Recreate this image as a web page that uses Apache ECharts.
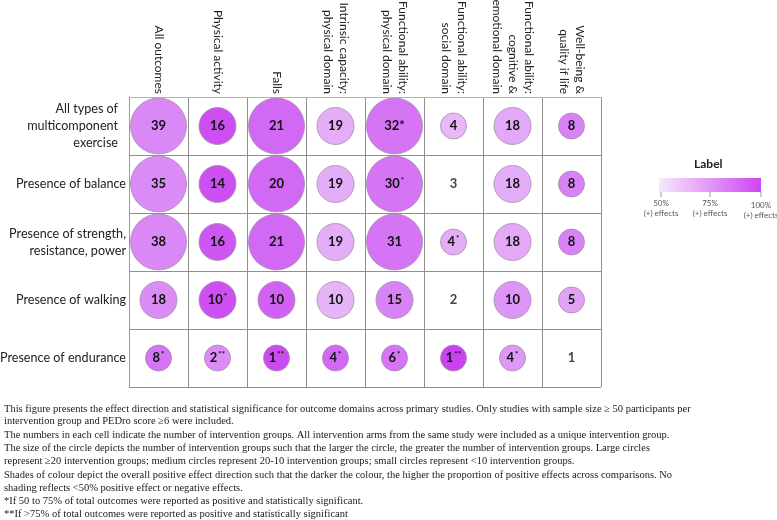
<!DOCTYPE html>
<html><head><meta charset="utf-8">
<script src="https://cdn.jsdelivr.net/npm/echarts@6/dist/echarts.min.js"></script>
<style>html,body{margin:0;padding:0;background:#fff}#c{width:777px;height:520px}</style>
</head><body><div id="c"></div>
<script>
// ---- data ----
const outcomes = ['All outcomes', 'Physical activity', 'Falls', 'Intrinsic capacity:\nphysical domain',
  'Functional ability:\nphysical domain', 'Functional ability:\nsocial domain',
  'Functional ability:\ncognitive &\nemotional domain', 'Well-being &\nquality if life'];
const exerciseTypes = ['All types of\nmulticomponent\nexercise', 'Presence of balance',
  'Presence of strength,\nresistance, power', 'Presence of walking', 'Presence of endurance'];
// number of intervention groups
const counts = [
  [39, 16, 21, 19, 32, 4, 18, 8],
  [35, 14, 20, 19, 30, 3, 18, 8],
  [38, 16, 21, 19, 31, 4, 18, 8],
  [18, 10, 10, 10, 15, 2, 10, 5],
  [8, 2, 1, 4, 6, 1, 4, 1]
];
// estimated proportion of positive effects (%), null = no shading (<50%)
const positivePct = [
  [78, 95, 88, 65, 85, 62, 66, 80],
  [77, 95, 88, 65, 85, null, 65, 80],
  [78, 93, 88, 65, 85, 65, 66, 80],
  [76, 95, 90, 63, 80, null, 73, 68],
  [85, 76, 96, 88, 85, 98, 72, null]
];
// number of significance asterisks
const sigStars = [
  [0, 0, 0, 0, 1, 0, 0, 0],
  [0, 0, 0, 0, 1, 0, 0, 0],
  [0, 0, 0, 0, 0, 1, 0, 0],
  [0, 1, 0, 0, 0, 0, 0, 0],
  [1, 2, 2, 1, 1, 2, 1, 0]
];
// cells whose asterisk is printed full size instead of superscript
const inlineStarCells = [[0, 4]];
const legendTicks = ['50%\n(+) effects', '75%\n(+) effects', '100%\n(+) effects'];
const footnotes = [
  'This figure presents the effect direction and statistical significance for outcome domains across primary studies. Only studies with sample size \u2265 50 participants per',
  'intervention group and PEDro score \u22656 were included.',
  'The numbers in each cell indicate the number of intervention groups. All intervention arms from the same study were included as a unique intervention group.',
  'The size of the circle depicts the number of intervention groups such that the larger the circle, the greater the number of intervention groups. Large circles',
  'represent \u226520 intervention groups; medium circles represent 20-10 intervention groups; small circles represent <10 intervention groups.',
  'Shades of colour depict the overall positive effect direction such that the darker the colour, the higher the proportion of positive effects across comparisons. No',
  'shading reflects <50% positive effect or negative effects.',
  '*If 50 to 75% of total outcomes were reported as positive and statistically significant.',
  '**If >75% of total outcomes were reported as positive and statistically significant'
];

// ---- build ----
const FONT = 'Lato, "Open Sans", sans-serif';
function sizeFor(n) { return n >= 20 ? 56 : (n >= 10 ? 37 : 26); }
function isInline(r, c) { return inlineStarCells.some(p => p[0] === r && p[1] === c); }
const shaded = [], plain = [];
counts.forEach((row, r) => row.forEach((n, c) => {
  const item = { value: [c, r, n, positivePct[r][c], sigStars[r][c], isInline(r, c) ? 1 : 0] };
  if (positivePct[r][c] == null) plain.push(item); else shaded.push(item);
}));
const labelCfg = {
  show: true, position: 'inside',
  formatter: p => {
    const v = p.data.value;
    let s = '{n|' + v[2] + '}';
    if (v[4] > 0) s += (v[5] ? '{f|' : '{s|') + '*'.repeat(v[4]) + '}';
    return s;
  },
  rich: {
    n: { fontFamily: FONT, fontWeight: 'bold', fontSize: 13, color: '#111', lineHeight: 16 },
    s: { fontFamily: FONT, fontWeight: 'bold', fontSize: 8, color: '#111', lineHeight: 16, verticalAlign: 'top', padding: [0, 0, 6, 1] },
    f: { fontFamily: FONT, fontWeight: 'bold', fontSize: 13, color: '#111', lineHeight: 16 }
  }
};
const legendX = [661, 710, 761];
const graphics = [
  { type: 'text', left: 710 - 16, top: 158, style: { text: 'Label', font: 'bold 12px ' + FONT, fill: '#222' } },
  { type: 'rect', shape: { x: 659, y: 178, width: 102, height: 14 },
    style: { fill: { type: 'linear', x: 0, y: 0, x2: 1, y2: 0,
      colorStops: [{ offset: 0, color: '#f6e8fc' }, { offset: 1, color: '#cf45f3' }] } } }
];
legendTicks.forEach((t, i) => {
  graphics.push({ type: 'line', shape: { x1: legendX[i], y1: 192, x2: legendX[i], y2: 197 }, style: { stroke: '#6a9fd8', lineWidth: 1 } });
  graphics.push({ type: 'text', x: legendX[i], y: i === 2 ? 200 : 198,
    style: { text: t, font: '8px ' + FONT, fill: '#555', align: 'center', verticalAlign: 'top', lineHeight: 10 } });
});
const footY = [409, 421, 435, 448, 461, 475, 488, 501, 514];
footnotes.forEach((t, i) => {
  graphics.push({ type: 'text', x: 4, y: footY[i],
    style: { text: t, font: '10.5px "Liberation Serif", "DejaVu Serif", serif', fill: '#1a1a1a', verticalAlign: 'middle' } });
});

const chart = echarts.init(document.getElementById('c'));
chart.setOption({
  animation: false,
  backgroundColor: '#fff',
  grid: { left: 129, top: 97, width: 472, height: 290, show: false, containLabel: false, outerBoundsMode: 'none' },
  xAxis: {
    type: 'category', position: 'top', data: outcomes, boundaryGap: true,
    axisLine: { show: true, lineStyle: { color: '#b5b5b5' } }, axisTick: { show: false },
    axisLabel: { interval: 0, rotate: 90, margin: 3, fontFamily: FONT, fontSize: 12, color: '#222', lineHeight: 16 },
    splitLine: { show: true, interval: 0, lineStyle: { color: '#8f8f8f', width: 1 } }
  },
  yAxis: {
    type: 'category', inverse: true, data: exerciseTypes, boundaryGap: true,
    axisLine: { show: true, lineStyle: { color: '#9a9a9a' } }, axisTick: { show: false },
    axisLabel: { interval: 0, margin: 3, fontFamily: FONT, fontSize: 12.6, color: '#222', lineHeight: 17,
      formatter: (v, i) => i === 0 ? '{p|' + v + '}' : v,
      rich: { p: { fontFamily: FONT, fontSize: 12.6, color: '#222', lineHeight: 17, padding: [0, 8, 0, 0] } } },
    splitLine: { show: true, interval: 0, lineStyle: { color: '#8f8f8f', width: 1 } }
  },
  visualMap: {
    show: false, type: 'continuous', seriesIndex: 0, dimension: 3, min: 50, max: 100,
    inRange: { color: ['#f6e8fc', '#e2a6f6', '#d67af5', '#c93cf0'] }
  },
  series: [
    { type: 'scatter', data: shaded, symbol: 'circle',
      symbolSize: (v) => sizeFor(v[2]),
      itemStyle: { borderColor: '#a58aa8', borderWidth: 0.8, opacity: 1 },
      label: labelCfg, emphasis: { disabled: true } },
    { type: 'scatter', data: plain, symbolSize: 10,
      itemStyle: { color: 'rgba(0,0,0,0)', borderWidth: 0 },
      label: labelCfg, emphasis: { disabled: true } }
  ],
  graphic: graphics
});
</script>
</body></html>
